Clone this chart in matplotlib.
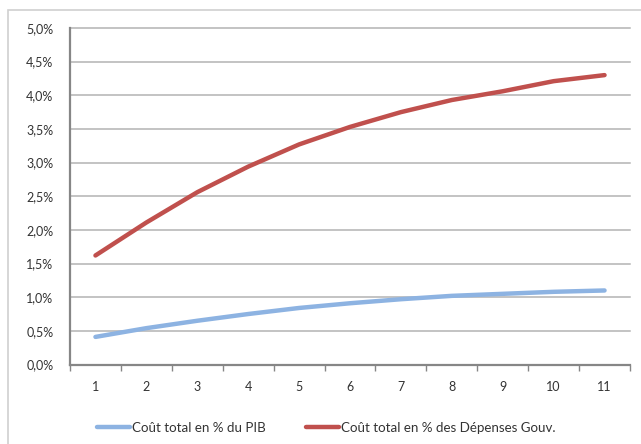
import matplotlib
matplotlib.use("Agg")
import matplotlib.pyplot as plt
from matplotlib.patches import Rectangle
from matplotlib.ticker import FuncFormatter, MultipleLocator

plt.rcParams['font.family'] = ['Lato', 'DejaVu Sans']

annees = [1, 2, 3, 4, 5, 6, 7, 8, 9, 10, 11]
cout_pib = [0.41, 0.54, 0.65, 0.75, 0.84, 0.91, 0.97, 1.02, 1.05, 1.08, 1.10]
cout_depenses = [1.62, 2.11, 2.56, 2.94, 3.27, 3.53, 3.75, 3.93, 4.06, 4.21, 4.30]
noms = ['Coût total en % du PIB', 'Coût total en % des Dépenses Gouv.']

bleu = '#8db3e2'
rouge = '#c0504d'
gris_axe = '#868686'

fig = plt.figure(figsize=(6.41, 4.44), dpi=100)
fig.patch.set_facecolor('white')

# cadre du graphique
fig.patches.append(Rectangle((8 / 641, -0.1), 1.2, 1.1 - 10 / 444,
                             transform=fig.transFigure, fill=False,
                             edgecolor='#d0d0d0', linewidth=1.2))

ax = fig.add_axes([70 / 641, (444 - 364.5) / 444, 560 / 641, 336.5 / 444])

l1, = ax.plot(annees, cout_pib, color=bleu, lw=3.2, solid_capstyle='round',
              solid_joinstyle='round', zorder=3, clip_on=False)
l2, = ax.plot(annees, cout_depenses, color=rouge, lw=3.2, solid_capstyle='round',
              solid_joinstyle='round', zorder=3, clip_on=False)

ax.set_xlim(0.5, 11.5)
ax.set_ylim(0, 5)
ax.yaxis.set_major_locator(MultipleLocator(0.5))
ax.yaxis.set_major_formatter(FuncFormatter(lambda v, p: f"{v:.1f}%".replace('.', ',')))
ax.set_xticks(annees)
ax.set_xticks([a - 0.5 for a in annees] + [11.5], minor=True)
ax.tick_params(axis='x', which='major', length=0, pad=12, labelsize=9, colors='#333333')
ax.tick_params(axis='x', which='minor', length=4, direction='out', color=gris_axe, width=1)
ax.tick_params(axis='y', length=0, pad=12, labelsize=9, colors='#333333')

ax.grid(axis='y', color='#b3b3b3', lw=1.1, clip_on=False)
ax.set_axisbelow(True)
for s in ['top', 'right']:
    ax.spines[s].set_visible(False)
for s in ['left', 'bottom']:
    ax.spines[s].set_color(gris_axe)
    ax.spines[s].set_linewidth(1.6)

fig.legend([l1, l2], noms, loc='center left', bbox_to_anchor=(97 / 641, 0.036), ncol=2,
           frameon=False, fontsize=9.6, handlelength=2.5, handletextpad=0.15,
           columnspacing=3.0, labelcolor='#333333', borderaxespad=0, borderpad=0)

fig.savefig('out.png', dpi=100)
